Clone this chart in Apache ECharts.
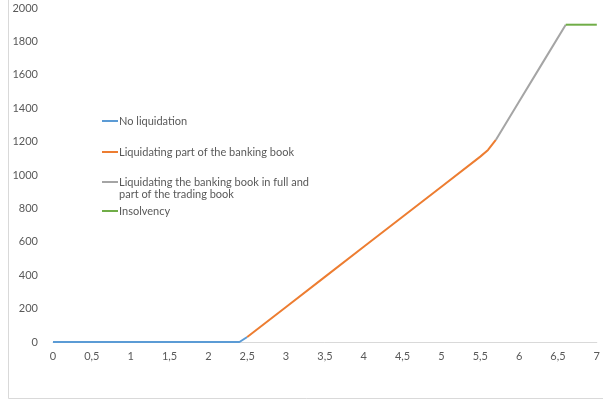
<!DOCTYPE html>
<html>
<head>
<meta charset="utf-8">
<script src="https://cdn.jsdelivr.net/npm/echarts@6/dist/echarts.min.js"></script>
<style>
  html, body { margin: 0; padding: 0; background: #fff; }
  #chart { width: 603px; height: 402px; }
</style>
</head>
<body>
<div id="chart"></div>
<script>
// values, [x, y]
var noLiquidation = [[0, 0], [0.5, 0], [1, 0], [1.5, 0], [2, 0], [2.4, 0], [2.5, 30]];
var partBanking = [[2.5, 30], [3, 210], [3.5, 390], [4, 570], [4.5, 750], [5, 930], [5.5, 1110], [5.6, 1150], [5.7, 1210]];
var fullBanking = [[5.7, 1210], [6, 1440], [6.3, 1670], [6.6, 1900]];
var insolvency = [[6.6, 1900], [7, 1900]];

var seriesNames = ['No liquidation', 'Liquidating part of the banking book',
  'Liquidating the banking book in full and', 'Insolvency'];
var wrappedLine = 'part of the trading book';
var seriesColors = ['#5B9BD5', '#ED7D31', '#A5A5A5', '#70AD47'];
var legendTops = [114, 145, 175, 204];

var chart = echarts.init(document.getElementById('chart'));

var fontFamily = 'Lato, "Open Sans", sans-serif';

var legends = seriesNames.map(function (name, i) {
  return {
    data: [name],
    left: 102,
    top: legendTops[i],
    orient: 'vertical',
    icon: 'rect',
    itemWidth: 16,
    itemHeight: 2,
    selectedMode: false,
    padding: 0,
    textStyle: {
      color: '#595959',
      fontSize: 11,
      fontFamily: fontFamily,
      lineHeight: 14,
      padding: [0, 0, 0, -4]
    }
  };
});

var datasets = [noLiquidation, partBanking, fullBanking, insolvency];

chart.setOption({
  backgroundColor: '#fff',
  animation: false,
  graphic: [{
    type: 'rect',
    shape: { x: 8.5, y: -5, width: 600, height: 403.5 },
    style: { fill: 'none', stroke: '#d9d9d9', lineWidth: 1 },
    silent: true
  }, {
    type: 'text',
    left: 119,
    top: 189,
    style: {
      text: wrappedLine,
      fill: '#595959',
      fontSize: 11,
      fontFamily: fontFamily
    },
    silent: true
  }],
  legend: legends,
  grid: { left: 53, right: 3, top: 8, bottom: 60 },
  xAxis: {
    type: 'value',
    min: 0,
    max: 7,
    interval: 0.5,
    axisLine: { show: true, lineStyle: { color: '#d9d9d9', width: 1 } },
    axisTick: { show: false },
    splitLine: { show: false },
    axisLabel: {
      color: '#595959',
      fontSize: 11,
      fontFamily: fontFamily,
      margin: 9,
      formatter: function (v) { return String(v).replace('.', ','); }
    }
  },
  yAxis: {
    type: 'value',
    min: 0,
    max: 2000,
    interval: 200,
    axisLine: { show: false },
    axisTick: { show: false },
    splitLine: { show: false },
    axisLabel: {
      color: '#595959',
      fontSize: 11,
      fontFamily: fontFamily,
      margin: 15,
      formatter: function (v) { return String(v); }
    }
  },
  series: datasets.map(function (d, i) {
    return {
      name: seriesNames[i],
      type: 'line',
      data: d,
      showSymbol: false,
      symbol: 'none',
      color: seriesColors[i],
      lineStyle: { color: seriesColors[i], width: 2 }
    };
  })
});
</script>
</body>
</html>
